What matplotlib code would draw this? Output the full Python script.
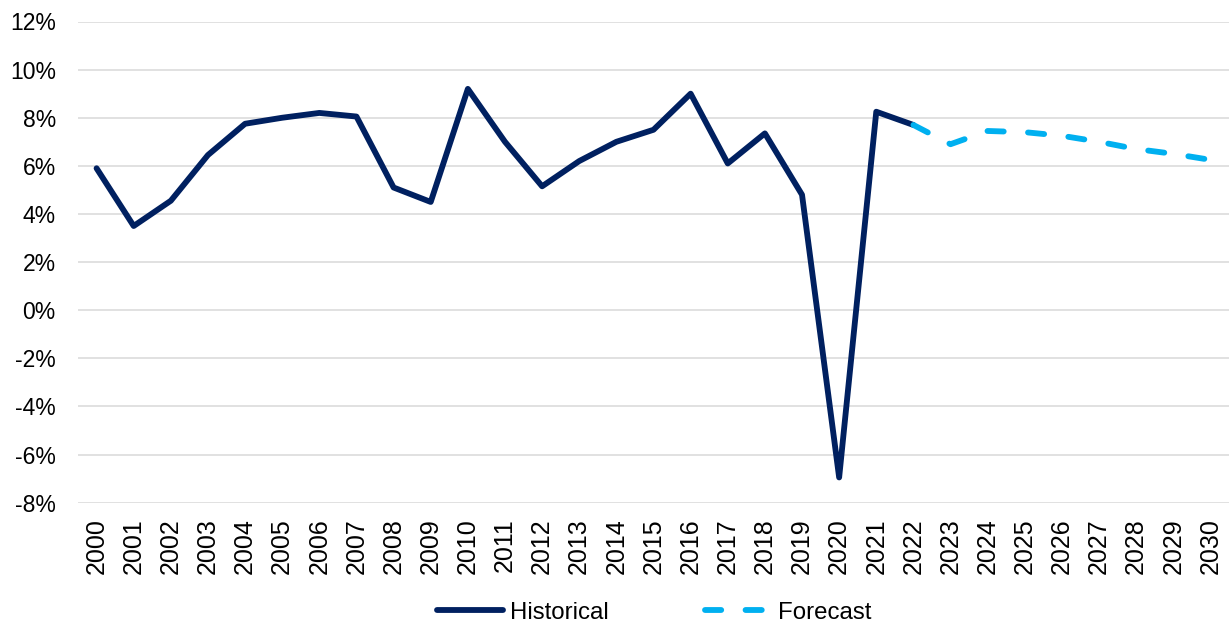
import matplotlib
matplotlib.use("Agg")
import matplotlib.pyplot as plt
from matplotlib.ticker import FuncFormatter

plt.rcParams['font.family'] = ['Liberation Sans', 'DejaVu Sans']

years = [str(y) for y in range(2000, 2031)]
historical_years = years[:23]          # 2000-2022
historical = [5.9, 3.5, 4.55, 6.45, 7.75, 8.0, 8.2, 8.05, 5.1, 4.5, 9.2, 7.0,
              5.15, 6.2, 7.0, 7.5, 9.0, 6.1, 7.35, 4.8, -6.95, 8.25, 7.7]
forecast_years = years[22:]            # 2022-2030
forecast = [7.7, 6.9, 7.45, 7.4, 7.25, 7.0, 6.7, 6.5, 6.25]

y_ticks = list(range(-8, 13, 2))

NAVY = '#002060'
CYAN = '#00B0F0'
GRID = '#D9D9D9'
LW = 4.2

fig = plt.figure(figsize=(12.29, 6.24), dpi=100)
ax = fig.add_axes([78 / 1229, 1 - 502.7 / 624, 1 - 78 / 1229, (502.7 - 21.5) / 624])

idx = {y: i for i, y in enumerate(years)}
hx = [idx[y] for y in historical_years]
fx = [idx[y] for y in forecast_years]

ax.plot(hx, historical, color=NAVY, lw=LW, solid_capstyle='round',
        solid_joinstyle='round', label='Historical', zorder=3)
fl, = ax.plot(fx, forecast, color=CYAN, lw=LW, dash_capstyle='round',
              dash_joinstyle='round', label='Forecast', zorder=4)
fl.set_dashes((2.78, 4.17))

ax.set_xlim(-0.5, len(years) - 0.5)
ax.set_ylim(-8, 12)
ax.set_yticks(y_ticks)
ax.yaxis.set_major_formatter(FuncFormatter(lambda v, _: f"{v:.0f}%"))
ax.set_xticks(range(len(years)))
ax.set_xticklabels(years, rotation=90)

ax.grid(axis='y', color=GRID, lw=1.1, zorder=0)
ax.set_axisbelow(True)
for s in ax.spines.values():
    s.set_visible(False)
ax.tick_params(axis='y', length=0, pad=16, labelsize=16.5)
ax.tick_params(axis='x', length=0, pad=11, labelsize=18)

fig.legend(loc='center', bbox_to_anchor=(0.5325, 0.018), ncol=2, frameon=False,
           fontsize=17.3, handlelength=2.75, handletextpad=0.3, columnspacing=4.0)

fig.savefig('out.png', dpi=100)
